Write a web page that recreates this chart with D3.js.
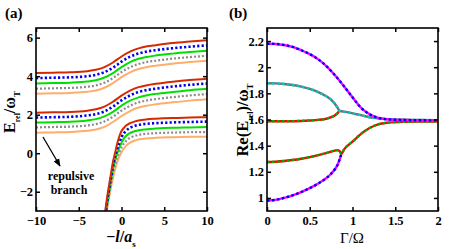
<!DOCTYPE html>
<html>
<head>
<meta charset="utf-8">
<script src="https://cdn.jsdelivr.net/npm/d3@7"></script>
<style>
  body { margin: 0; background: #fff; }
  svg { display: block; font-family: "Liberation Serif", "Times New Roman", serif; font-weight: bold; }
</style>
</head>
<body>
<div id="chart"></div>
<script>
// ---- panel (a) data: E_rel/omega_T vs -l/a_s ----
const xGrid = [-10, -8, -6, -4, -3, -2, -1, 0, 1, 2, 3, 4, 6, 8, 10];

// upper band, one row per curve (red, blue, green, grey, orange)
const upperBand = [
  [4.16, 4.18, 4.20, 4.26, 4.33, 4.47, 4.71, 5.02, 5.27, 5.44, 5.55, 5.61, 5.72, 5.80, 5.87],
  [3.90, 3.92, 3.94, 4.00, 4.07, 4.21, 4.44, 4.75, 5.01, 5.18, 5.28, 5.35, 5.45, 5.53, 5.60],
  [3.62, 3.64, 3.66, 3.72, 3.79, 3.93, 4.16, 4.47, 4.73, 4.90, 5.00, 5.07, 5.17, 5.25, 5.32],
  [3.35, 3.37, 3.39, 3.45, 3.52, 3.66, 3.90, 4.21, 4.46, 4.63, 4.74, 4.80, 4.91, 4.99, 5.06],
  [3.09, 3.11, 3.13, 3.19, 3.26, 3.40, 3.64, 3.95, 4.20, 4.37, 4.48, 4.54, 4.65, 4.73, 4.80]
];

const middleBand = [
  [2.10, 2.12, 2.14, 2.21, 2.28, 2.42, 2.67, 2.99, 3.25, 3.43, 3.53, 3.60, 3.71, 3.80, 3.87],
  [1.85, 1.87, 1.89, 1.96, 2.03, 2.17, 2.42, 2.74, 3.00, 3.18, 3.28, 3.35, 3.46, 3.55, 3.62],
  [1.59, 1.61, 1.63, 1.70, 1.77, 1.91, 2.15, 2.47, 2.73, 2.90, 3.01, 3.08, 3.18, 3.27, 3.34],
  [1.34, 1.36, 1.38, 1.44, 1.51, 1.65, 1.89, 2.21, 2.46, 2.64, 2.74, 2.81, 2.91, 3.00, 3.07],
  [1.06, 1.08, 1.10, 1.16, 1.23, 1.37, 1.62, 1.93, 2.19, 2.37, 2.47, 2.54, 2.64, 2.73, 2.80]
];

// lowest (repulsive) branch, [x, E] pairs
const lowerBand = [
  [[-2.0, -3.4], [-1.9, -3.0], [-1.6, -2.05], [-1.3, -1.25], [-1.0, -0.45], [-0.75, 0.02], [-0.5, 0.5], [-0.25, 0.88], [0, 1.15], [0.5, 1.42], [1, 1.56], [1.5, 1.64], [2, 1.70], [3, 1.76], [4, 1.79], [6, 1.83], [8, 1.85], [10, 1.87]],
  [[-1.92, -3.4], [-1.82, -3.0], [-1.5, -2.0], [-1.2, -1.2], [-0.9, -0.45], [-0.6, 0.05], [-0.3, 0.48], [0, 0.83], [0.5, 1.15], [1, 1.32], [1.5, 1.41], [2, 1.47], [3, 1.53], [4, 1.56], [6, 1.60], [8, 1.62], [10, 1.64]],
  [[-1.88, -3.4], [-1.78, -3.0], [-1.45, -2.0], [-1.15, -1.2], [-0.8, -0.45], [-0.45, 0.05], [-0.1, 0.45], [0.3, 0.78], [0.8, 1.0], [1.5, 1.14], [2, 1.19], [3, 1.25], [4, 1.28], [6, 1.32], [8, 1.34], [10, 1.36]],
  [[-1.85, -3.4], [-1.75, -3.0], [-1.4, -2.0], [-1.1, -1.25], [-0.7, -0.5], [-0.3, 0.0], [0.1, 0.38], [0.6, 0.66], [1.2, 0.84], [2, 0.95], [3, 1.01], [4, 1.04], [6, 1.07], [8, 1.09], [10, 1.10]],
  [[-1.82, -3.4], [-1.72, -3.0], [-1.35, -2.05], [-1.0, -1.3], [-0.5, -0.45], [0, 0.05], [0.5, 0.37], [1, 0.55], [1.5, 0.65], [2, 0.71], [3, 0.77], [4, 0.80], [6, 0.83], [8, 0.85], [10, 0.86]]
];

const xTicksA = [-10, -5, 0, 5, 10];
const yTicksA = [-2, 0, 2, 4, 6];

// ---- panel (b) data: Re(E_rel)/omega_T vs Gamma/Omega, [G, E] pairs ----
const bTop = [[0, 2.18], [0.1, 2.178], [0.2, 2.17], [0.3, 2.155], [0.4, 2.13], [0.5, 2.10], [0.6, 2.06], [0.7, 2.005], [0.8, 1.935], [0.9, 1.855], [1.0, 1.77], [1.1, 1.69], [1.2, 1.64], [1.3, 1.613], [1.4, 1.602], [1.6, 1.596], [1.8, 1.594], [2.0, 1.593]];
const bSecond = [[0, 1.877], [0.1, 1.876], [0.2, 1.872], [0.3, 1.864], [0.4, 1.852], [0.5, 1.835], [0.6, 1.81], [0.7, 1.775], [0.76, 1.745], [0.8, 1.715], [0.83, 1.685], [0.845, 1.668], [0.87, 1.663], [0.95, 1.655], [1.05, 1.64], [1.15, 1.625], [1.25, 1.612], [1.4, 1.603], [1.6, 1.598], [1.8, 1.596], [2.0, 1.595]];
const bThird = [[0, 1.587], [0.2, 1.587], [0.4, 1.589], [0.5, 1.592], [0.6, 1.597], [0.7, 1.607], [0.76, 1.62], [0.8, 1.635], [0.83, 1.652], [0.845, 1.668]];
const bFourth = [[0, 1.275], [0.1, 1.277], [0.2, 1.282], [0.3, 1.29], [0.4, 1.30], [0.5, 1.312], [0.6, 1.327], [0.7, 1.345], [0.78, 1.36], [0.82, 1.366], [0.85, 1.358], [0.87, 1.338], [0.9, 1.37], [1.0, 1.43], [1.1, 1.49], [1.2, 1.535], [1.3, 1.563], [1.4, 1.575], [1.6, 1.582], [1.8, 1.584], [2.0, 1.585]];
const bBottom = [[0, 0.98], [0.1, 0.985], [0.2, 1.0], [0.3, 1.02], [0.4, 1.045], [0.5, 1.075], [0.6, 1.11], [0.7, 1.155], [0.75, 1.185], [0.8, 1.225], [0.83, 1.26], [0.85, 1.295], [0.87, 1.338]];

const xTicksB = [0, 0.5, 1, 1.5, 2];
const yTicksB = [1, 1.2, 1.4, 1.6, 1.8, 2, 2.2];

const W = 452, H = 249;
const svg = d3.select('#chart').append('svg').attr('width', W).attr('height', H);

function frame(g, x, y, xt, yt, fmtX, fmtY) {
  const [x0, x1] = x.range(), [y1, y0] = y.range();
  g.append('g').attr('transform', `translate(0,${y1})`)
    .call(d3.axisBottom(x).tickValues(xt).tickSize(-4).tickPadding(5).tickFormat(fmtX));
  g.append('g').attr('transform', `translate(0,${y0})`)
    .call(d3.axisTop(x).tickValues(xt).tickSize(-4).tickFormat(''));
  g.append('g').attr('transform', `translate(${x0},0)`)
    .call(d3.axisLeft(y).tickValues(yt).tickSize(-4).tickPadding(3).tickFormat(fmtY));
  g.append('g').attr('transform', `translate(${x1},0)`)
    .call(d3.axisRight(y).tickValues(yt).tickSize(-4).tickFormat(''));
  g.selectAll('.domain').remove();
  g.selectAll('.tick line').attr('stroke', '#000').attr('stroke-width', 1.5);
  g.selectAll('.tick text').attr('fill', '#000')
    .style('font-family', '"Liberation Serif", serif').style('font-weight', 'bold').style('font-size', '12.5px');
  g.append('rect').attr('x', x0).attr('y', y0).attr('width', x1 - x0).attr('height', y1 - y0)
    .attr('fill', 'none').attr('stroke', '#000').attr('stroke-width', 1.6);
}

// ---------------- panel (a) ----------------
const xa = d3.scaleLinear().domain([-10, 10]).range([36, 207]);
const ya = d3.scaleLinear().domain([-3, 6.5]).range([211, 28]);
const ga = svg.append('g');

ga.append('clipPath').attr('id', 'clipA').append('rect')
  .attr('x', 36).attr('y', 28).attr('width', 171).attr('height', 183);

const curveStyles = [
  { color: '#d42a00', dash: null, width: 2 },
  { color: '#0000ee', dash: '2.2,2.2', width: 2.6 },
  { color: '#00e000', dash: null, width: 2 },
  { color: '#8c8c8c', dash: '2,2', width: 2.2 },
  { color: '#ffad6b', dash: null, width: 2 }
];

const lineA = d3.line().x(d => xa(d[0])).y(d => ya(d[1])).curve(d3.curveMonotoneX);
const plotA = ga.append('g').attr('clip-path', 'url(#clipA)');

[upperBand, middleBand].forEach(band => {
  band.forEach((vals, i) => {
    const pts = xGrid.map((x, k) => [x, vals[k]]);
    plotA.append('path').attr('d', lineA(pts)).attr('fill', 'none')
      .attr('stroke', curveStyles[i].color).attr('stroke-width', curveStyles[i].width)
      .attr('stroke-dasharray', curveStyles[i].dash);
  });
});
// draw lowest branch back to front so red stays on top at the left
lowerBand.slice().reverse().forEach((pts, r) => {
  const i = lowerBand.length - 1 - r;
  plotA.append('path').attr('d', lineA(pts)).attr('fill', 'none')
    .attr('stroke', curveStyles[i].color).attr('stroke-width', curveStyles[i].width)
    .attr('stroke-dasharray', curveStyles[i].dash);
});

frame(ga, xa, ya, xTicksA, yTicksA, d3.format('d'), d3.format('d'));

// annotation
svg.append('defs').append('marker').attr('id', 'arrow').attr('viewBox', '0 0 10 10')
  .attr('refX', 9).attr('refY', 5).attr('markerWidth', 6).attr('markerHeight', 6)
  .attr('orient', 'auto').append('path').attr('d', 'M0,1 L10,5 L0,9 Z').attr('fill', '#000');
ga.append('line').attr('x1', 43).attr('y1', 137).attr('x2', 60).attr('y2', 166)
  .attr('stroke', '#000').attr('stroke-width', 1.3).attr('marker-end', 'url(#arrow)');
ga.append('text').attr('x', 71).attr('y', 180).attr('text-anchor', 'middle')
  .style('font-size', '12px').text('repulsive');
ga.append('text').attr('x', 69).attr('y', 194).attr('text-anchor', 'middle')
  .style('font-size', '12px').text('branch');

// labels
svg.append('text').attr('x', 5).attr('y', 18).style('font-size', '15px').text('(a)');
const yla = svg.append('text').attr('transform', 'translate(15,112) rotate(-90)')
  .attr('text-anchor', 'middle').style('font-size', '16px');
yla.append('tspan').text('E');
yla.append('tspan').attr('baseline-shift', 'sub').style('font-size', '8px').text('rel');
yla.append('tspan').text('/ω');
yla.append('tspan').attr('baseline-shift', 'sub').style('font-size', '9px').text('T');

const xla = svg.append('text').attr('x', 121).attr('y', 242).attr('text-anchor', 'middle').style('font-size', '16px');
xla.append('tspan').text('−');
xla.append('tspan').style('font-style', 'italic').text('l');
xla.append('tspan').text('/');
xla.append('tspan').style('font-style', 'italic').text('a');
xla.append('tspan').attr('baseline-shift', 'sub').style('font-size', '9px').text('s');

// ---------------- panel (b) ----------------
const xb = d3.scaleLinear().domain([0, 2]).range([267, 438]);
const yb = d3.scaleLinear().domain([0.9, 2.3]).range([211, 28]);
const gb = svg.append('g');
gb.append('clipPath').attr('id', 'clipB').append('rect')
  .attr('x', 267).attr('y', 28).attr('width', 171).attr('height', 183);
const plotB = gb.append('g').attr('clip-path', 'url(#clipB)');
const lineB = d3.line().x(d => xb(d[0])).y(d => yb(d[1])).curve(d3.curveMonotoneX);

const pairs = [
  { data: bBottom, base: '#ff00ff', over: '#0000ff' },
  { data: bFourth, base: '#ff0000', over: '#00b000' },
  { data: bThird, base: '#ff0000', over: '#00b000' },
  { data: bSecond, base: '#707070', over: '#00c8c8' },
  { data: bTop, base: '#ff00ff', over: '#0000ff' }
];
pairs.forEach(p => {
  plotB.append('path').attr('d', lineB(p.data)).attr('fill', 'none')
    .attr('stroke', p.base).attr('stroke-width', 2.4);
  plotB.append('path').attr('d', lineB(p.data)).attr('fill', 'none')
    .attr('stroke', p.over).attr('stroke-width', 2.4).attr('stroke-dasharray', '2.5,2.5');
});

frame(gb, xb, yb, xTicksB, yTicksB, d3.format('~g'), d3.format('~g'));

svg.append('text').attr('x', 229).attr('y', 18).style('font-size', '15px').text('(b)');
const ylb = svg.append('text').attr('transform', 'translate(248,120) rotate(-90)')
  .attr('text-anchor', 'middle').style('font-size', '16.5px');
ylb.append('tspan').text('Re(E');
ylb.append('tspan').attr('baseline-shift', 'sub').style('font-size', '8px').text('rel');
ylb.append('tspan').text(')/ω');
ylb.append('tspan').attr('baseline-shift', 'sub').style('font-size', '9px').text('T');

svg.append('text').attr('x', 352).attr('y', 243).attr('text-anchor', 'middle')
  .style('font-size', '15px').style('font-weight', 'normal').text('Γ/Ω');
</script>
</body>
</html>
